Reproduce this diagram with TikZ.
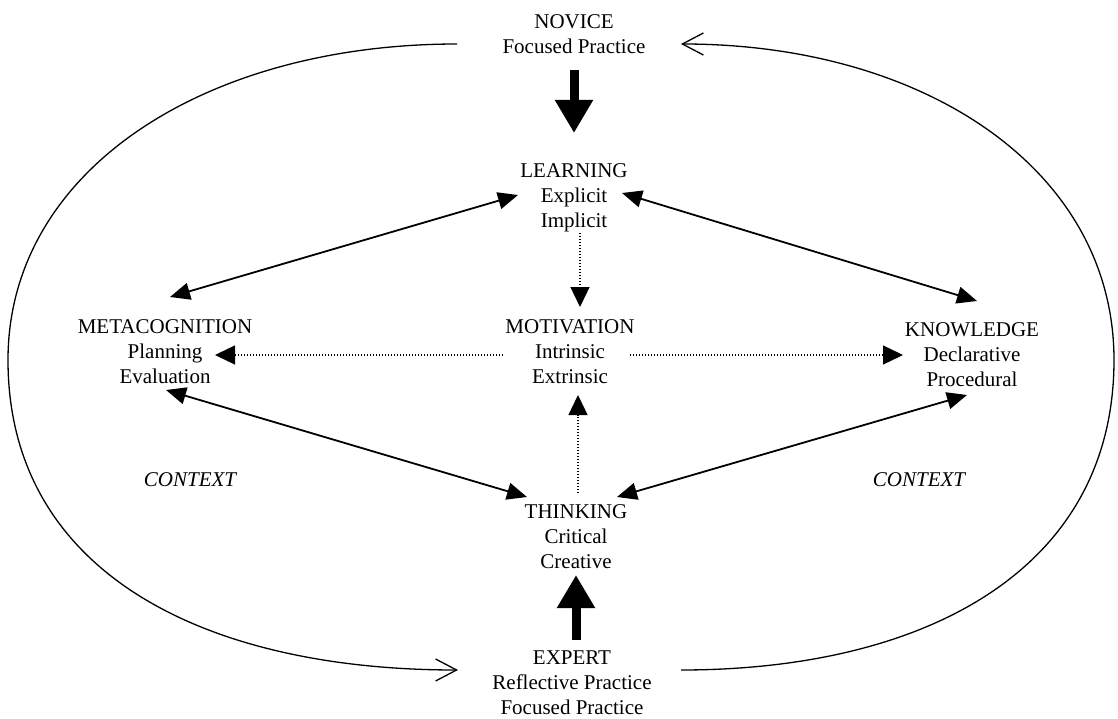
\documentclass[tikz,border=0pt]{standalone}
\usepackage{fontspec}
\setmainfont{Liberation Serif}
\usetikzlibrary{arrows.meta}
\begin{document}
\begin{tikzpicture}[x=1bp,y=-1bp,
  lbl/.style={align=center,inner sep=0pt,font=\fontsize{21bp}{25bp}\selectfont},
  ctx/.style={inner sep=0pt,font=\fontsize{21bp}{25bp}\selectfont\itshape},
  link/.style={line width=1.8bp,{Triangle[length=20bp,width=17bp]}-{Triangle[length=20bp,width=17bp]}},
  dotlink/.style={line width=1.3bp,dash pattern=on 1.2bp off 1.8bp,-{Triangle[length=20bp,width=19bp]}},
  bigarrow/.style={line width=9bp,-{Triangle[length=33bp,width=36bp]}},
  loopline/.style={line width=1.3bp,-{Straight Barb[length=21bp,width=22bp]}}]
\useasboundingbox (0,0) rectangle (1118,719);

% concept nodes
\node[lbl] (novice) at (574,34.5) {NOVICE\\Focused Practice};
\node[lbl] (learn) at (574,198) {LEARNING\\Explicit\\Implicit};
\node[lbl] (motiv) at (570,352) {MOTIVATION\\Intrinsic\\Extrinsic};
\node[lbl] (meta) at (165,352) {METACOGNITION\\Planning\\Evaluation};
\node[lbl] (know) at (972,355) {KNOWLEDGE\\Declarative\\Procedural};
\node[lbl] (think) at (576,537) {THINKING\\Critical\\Creative};
\node[lbl] (expert) at (572,683) {EXPERT\\Reflective Practice\\Focused Practice};
\node[ctx] (ctxL) at (190,480) {CONTEXT};
\node[ctx] (ctxR) at (919,480) {CONTEXT};

% connector end points
\coordinate (learnSW) at (518,195);
\coordinate (learnSE) at (622,193);
\coordinate (learnS) at (580,233);
\coordinate (metaNE) at (170,297);
\coordinate (metaSE) at (166,390);
\coordinate (metaE) at (215,355);
\coordinate (knowNW) at (977,301);
\coordinate (knowSW) at (967,395);
\coordinate (knowW) at (903,355);
\coordinate (motivW) at (503,355);
\coordinate (motivE) at (630,355);
\coordinate (motivN) at (580,307);
\coordinate (motivS) at (578,395);
\coordinate (thinkNW) at (527,497);
\coordinate (thinkNE) at (617,497);
\coordinate (thinkN) at (578,493);
\coordinate (thinkS) at (576,575);
\coordinate (noviceS) at (574,70);
\coordinate (learnN) at (574,133);
\coordinate (expertN) at (576,640);
\coordinate (noviceW) at (457,44);
\coordinate (noviceE) at (681,44);
\coordinate (expertW) at (458,670);
\coordinate (expertE) at (681,670);
\coordinate (farL) at (8,360);
\coordinate (farR) at (1114,360);

% connectors
\draw[link] (learnSW) -- (metaNE);
\draw[link] (learnSE) -- (knowNW);
\draw[link] (metaSE) -- (thinkNW);
\draw[link] (knowSW) -- (thinkNE);
\draw[dotlink] (motivW) -- (metaE);
\draw[dotlink] (motivE) -- (knowW);
\draw[dotlink] (learnS) -- (motivN);
\draw[dotlink] (thinkN) -- (motivS);
\draw[bigarrow] (noviceS) -- (learnN);
\draw[bigarrow] (expertN) -- (thinkS);

% outer loop
\draw[loopline] (noviceW) .. controls (205,44) and (8,170) .. (farL)
  .. controls (8,570) and (200,670) .. (expertW);
\draw[loopline] (expertE) .. controls (925,670) and (1114,570) .. (farR)
  .. controls (1114,170) and (925,44) .. (noviceE);
\end{tikzpicture}
\end{document}
